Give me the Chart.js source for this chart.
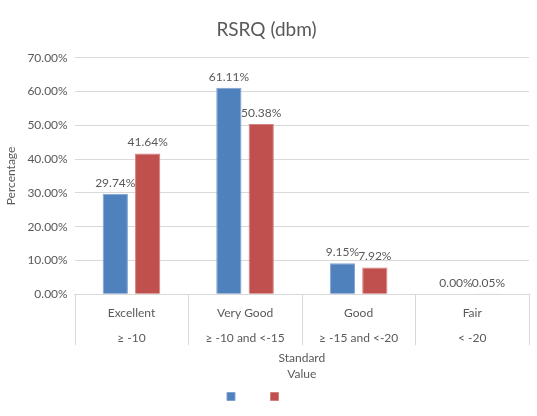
<!DOCTYPE html>
<html>
<head>
<meta charset="utf-8">
<script src="https://cdn.jsdelivr.net/npm/chart.js@4/dist/chart.umd.min.js"></script>
<style>
  html, body { margin: 0; padding: 0; background: #fff; }
  #wrap { width: 537px; height: 416px; }
</style>
</head>
<body>
<div id="wrap"><canvas id="chart" width="537" height="416"></canvas></div>
<script>
// Chart data
const categories = ["Excellent", "Very Good", "Good", "Fair"];
const ranges = ["≥ -10", "≥ -10 and <-15", "≥ -15 and <-20", "< -20"];
const seriesBlue = [29.74, 61.11, 9.15, 0.00];
const seriesRed = [41.64, 50.38, 7.92, 0.05];
const yTicks = [0, 10, 20, 30, 40, 50, 60, 70];

const textColor = "#595959";
const lineColor = "#D9D9D9";
const fontFamily = "Lato, 'Open Sans', sans-serif";

// Label each bar with its value on top
const valueLabels = {
    id: "valueLabels",
    afterDatasetsDraw(chart) {
        const ctx = chart.ctx;
        ctx.save();
        ctx.font = "12px " + fontFamily;
        ctx.fillStyle = textColor;
        ctx.textAlign = "center";
        ctx.textBaseline = "bottom";
        chart.data.datasets.forEach((ds, i) => {
            chart.getDatasetMeta(i).data.forEach((bar, j) => {
                ctx.fillText(ds.data[j].toFixed(2) + "%", bar.x, bar.y - 5);
            });
        });
        ctx.restore();
    }
};

// Vertical separators between the category label boxes
const categoryBoxes = {
    id: "categoryBoxes",
    afterDraw(chart) {
        const x = chart.scales.x;
        const ctx = chart.ctx;
        const top = chart.chartArea.bottom;
        const n = chart.data.labels.length;
        const step = (x.right - x.left) / n;
        ctx.save();
        ctx.strokeStyle = lineColor;
        ctx.lineWidth = 1;
        ctx.beginPath();
        for (let i = 0; i <= n; i++) {
            const px = Math.round(x.left + i * step) + 0.5;
            ctx.moveTo(px, top);
            ctx.lineTo(px, top + 51);
        }
        ctx.stroke();
        ctx.restore();
    }
};

new Chart(document.getElementById("chart").getContext("2d"), {
    type: "bar",
    data: {
        labels: categories.map((c, i) => [c, ranges[i]]),
        datasets: [
            // legend entries have no visible text, only wide blank labels for spacing
            { label: "\u2003\u2003\u2002", data: seriesBlue, backgroundColor: "#4F81BD", borderColor: "#7FA3D1", borderWidth: 1 },
            { label: "\u2003\u2003\u2002", data: seriesRed, backgroundColor: "#C0504D", borderColor: "#D4807E", borderWidth: 1 }
        ]
    },
    options: {
        responsive: false,
        animation: false,
        categoryPercentage: 0.57,
        barPercentage: 0.78,
        layout: { padding: { left: 4, right: 8, top: 10, bottom: 4 } },
        plugins: {
            title: {
                display: true,
                text: "RSRQ (dbm)",
                color: textColor,
                font: { family: fontFamily, size: 19, weight: "normal" },
                padding: { top: 8, bottom: 17 }
            },
            legend: {
                position: "bottom",
                labels: {
                    boxWidth: 8,
                    boxHeight: 8,
                    padding: 8,
                    color: textColor,
                    font: { family: fontFamily, size: 11 }
                }
            },
            tooltip: { enabled: false }
        },
        scales: {
            x: {
                grid: { display: false },
                border: { color: lineColor },
                ticks: {
                    color: textColor,
                    font: { family: fontFamily, size: 12, lineHeight: 2.1 },
                    padding: -2,
                    maxRotation: 0
                },
                title: {
                    display: true,
                    text: ["Standard", "Value"],
                    color: textColor,
                    font: { family: fontFamily, size: 12, lineHeight: 1.35 },
                    padding: { top: 1, bottom: 1 }
                }
            },
            y: {
                min: 0,
                max: 70,
                afterBuildTicks(scale) {
                    scale.ticks = yTicks.map(v => ({ value: v }));
                },
                grid: { color: lineColor, drawTicks: false },
                border: { display: false },
                ticks: {
                    color: textColor,
                    font: { family: fontFamily, size: 12 },
                    padding: 7,
                    callback: v => v.toFixed(2) + "%"
                },
                title: {
                    display: true,
                    text: "Percentage",
                    color: textColor,
                    font: { family: fontFamily, size: 12 },
                    padding: { top: 0, bottom: 2 }
                }
            }
        }
    },
    plugins: [valueLabels, categoryBoxes]
});
</script>
</body>
</html>
